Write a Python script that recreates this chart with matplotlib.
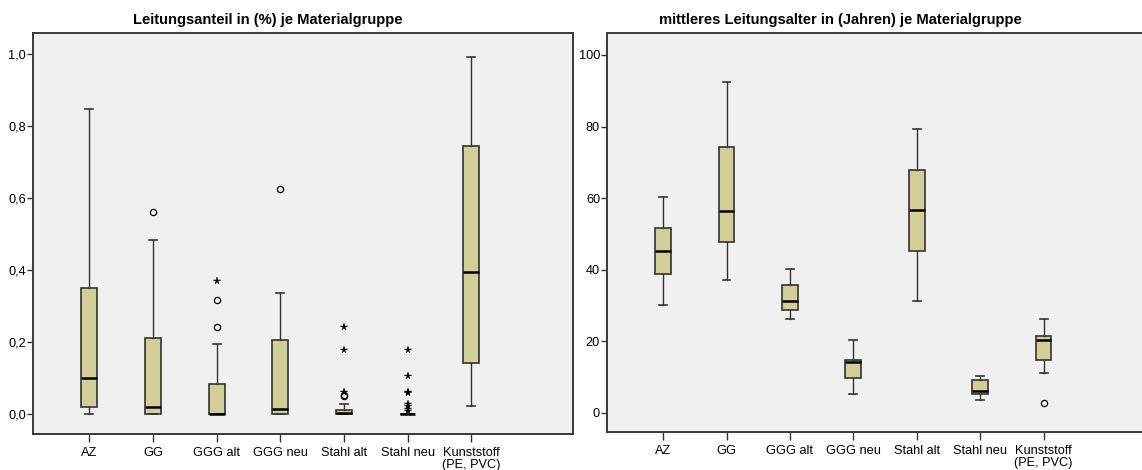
import matplotlib
matplotlib.use("Agg")
import matplotlib.pyplot as plt
from matplotlib.ticker import FuncFormatter

plt.rcParams['font.family'] = ['Liberation Sans', 'DejaVu Sans']

categories = ['AZ', 'GG', 'GGG alt', 'GGG neu', 'Stahl alt', 'Stahl neu', 'Kunststoff\n(PE, PVC)']

# Left panel: Leitungsanteil (share)
share_whislo = [0.0, 0.0, 0.0, 0.0, 0.0, 0.0, 0.023]
share_q1 = [0.019, 0.0, 0.0, 0.0, 0.0, 0.0, 0.142]
share_med = [0.100, 0.019, 0.002, 0.015, 0.003, 0.0, 0.396]
share_q3 = [0.351, 0.213, 0.085, 0.206, 0.013, 0.001, 0.746]
share_whishi = [0.848, 0.484, 0.195, 0.337, 0.029, 0.002, 0.993]
share_circles = [[], [0.561], [0.318, 0.242], [0.627], [0.054, 0.050], [], []]
share_stars = [[], [], [0.371], [], [0.242, 0.178, 0.061],
               [0.178, 0.106, 0.061, 0.058, 0.030, 0.022, 0.015, 0.010], []]

# Right panel: mittleres Leitungsalter (years)
age_whislo = [30.0, 37.2, 26.1, 5.1, 31.1, 3.5, 11.1]
age_q1 = [38.8, 47.7, 28.6, 9.6, 45.2, 5.1, 14.6]
age_med = [45.2, 56.5, 31.2, 14.2, 56.7, 6.1, 20.2]
age_q3 = [51.7, 74.4, 35.7, 14.8, 67.8, 9.1, 21.4]
age_whishi = [60.3, 92.4, 40.2, 20.2, 79.4, 10.2, 26.1]
age_circles = [[], [], [], [], [], [], [2.6]]
age_stars = [[], [], [], [], [], [], []]

left_ticks = [0.0, 0.2, 0.4, 0.6, 0.8, 1.0]
right_ticks = [0, 20, 40, 60, 80, 100]

BG = '#f0f0f0'
BOX = '#d3ce97'
EDGE = '#333333'
TICK_FS = 9.2

W, H = 1142, 470
fig = plt.figure(figsize=(W / 100, H / 100), dpi=100)
fig.patch.set_facecolor('white')


def make_stats(lo, q1, med, q3, hi, circ):
    stats = []
    for i in range(len(lo)):
        stats.append(dict(whislo=lo[i], q1=q1[i], med=med[i], q3=q3[i],
                          whishi=hi[i], fliers=circ[i]))
    return stats


def draw(ax, stats, stars, ticks, fmt, ylim):
    ax.set_facecolor(BG)
    pos = list(range(len(stats)))
    ax.bxp(stats, positions=pos, widths=0.25, patch_artist=True,
           showfliers=True,
           boxprops=dict(facecolor=BOX, edgecolor=EDGE, linewidth=1.2),
           medianprops=dict(color='black', linewidth=1.8),
           whiskerprops=dict(color=EDGE, linewidth=1.0),
           capprops=dict(color=EDGE, linewidth=1.2),
           flierprops=dict(marker='o', markersize=4.5, markerfacecolor='none',
                           markeredgecolor='black', markeredgewidth=0.9))
    for i, vals in enumerate(stars):
        if vals:
            ax.plot([pos[i]] * len(vals), vals, linestyle='none', marker='*',
                    markersize=5.5, color='black', markeredgewidth=0.3)
    ax.set_xlim(-0.885, 7.6)
    ax.set_ylim(*ylim)
    ax.set_xticks(pos)
    ax.set_xticklabels(categories, linespacing=1.05, fontsize=TICK_FS)
    ax.set_yticks(ticks)
    ax.yaxis.set_major_formatter(FuncFormatter(fmt))
    ax.tick_params(axis='y', labelsize=TICK_FS, length=4, width=1, color=EDGE, pad=1)
    ax.tick_params(axis='x', length=6, width=1, color=EDGE, pad=3)
    for s in ax.spines.values():
        s.set_color('#3a3a3a')
        s.set_linewidth(1.4)


axL = fig.add_axes([33 / W, (H - 434) / H, 540 / W, 401 / H])
draw(axL, make_stats(share_whislo, share_q1, share_med, share_q3, share_whishi, share_circles),
     share_stars, left_ticks, lambda v, p: f"{v:.1f}".replace('.', ','), (-0.0547, 1.0594))

axR = fig.add_axes([607 / W, (H - 432) / H, 538 / W, 399 / H])
draw(axR, make_stats(age_whislo, age_q1, age_med, age_q3, age_whishi, age_circles),
     age_stars, right_ticks, lambda v, p: f"{v:.0f}", (-5.4, 106.15))

fig.text(268 / W, 1 - 20 / H, 'Leitungsanteil in (%) je Materialgruppe',
         ha='center', va='center', fontsize=10.6, fontweight='bold')
fig.text(840 / W, 1 - 20 / H, 'mittleres Leitungsalter in (Jahren) je Materialgruppe',
         ha='center', va='center', fontsize=10.6, fontweight='bold')

fig.savefig('out.png', dpi=100, facecolor='white')
